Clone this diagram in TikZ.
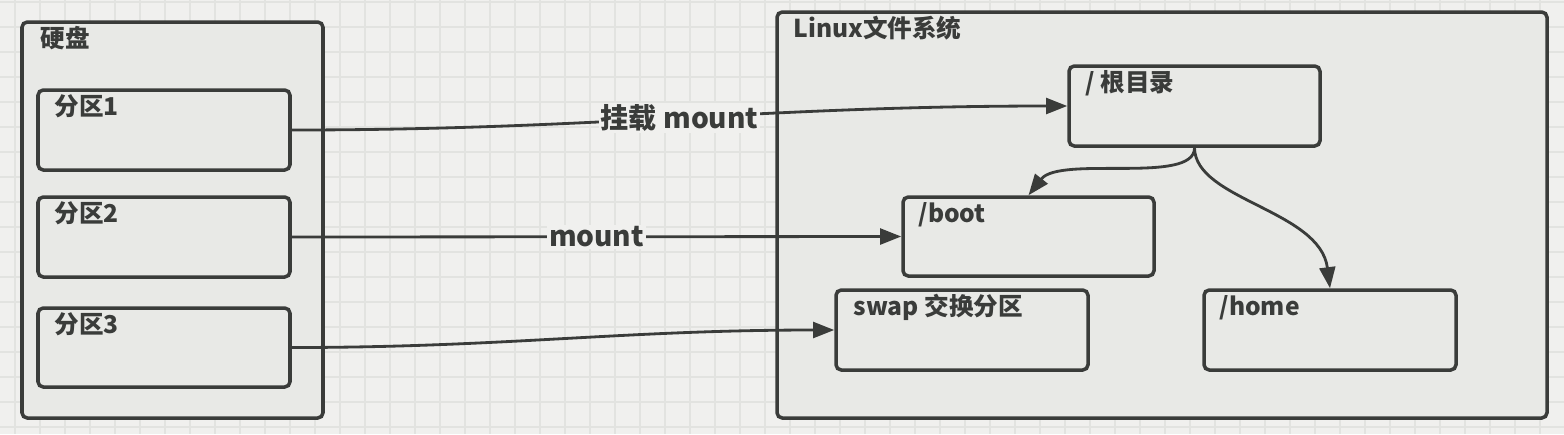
\documentclass[tikz,border=0pt]{standalone}
\usepackage{fontspec}
\setmainfont{Noto Sans CJK SC}
\usepackage{xcolor}
\usetikzlibrary{arrows.meta,fit}

\definecolor{canvas}{HTML}{F0F0EE}
\definecolor{gridc}{HTML}{E2E3E0}
\definecolor{boxfill}{HTML}{E8E9E6}
\definecolor{ink}{HTML}{3A3C3A}

\begin{document}
\begin{tikzpicture}[x=0.02cm, y=-0.02cm, >={Triangle[length=12pt,width=9pt]},
                box/.style={draw=ink, fill=boxfill, rounded corners=3pt, line width=2pt, inner sep=0pt},
                title/.style={anchor=base west, inner sep=0pt, text=ink, font=\fontsize{14}{16}\selectfont\bfseries},
                elbl/.style={fill=canvas, inner sep=1pt, text=ink, font=\fontsize{16}{18}\selectfont\bfseries},
                link/.style={->, draw=ink, line width=1.6pt},
                gridline/.style={draw=gridc, line width=0.6pt}]

      % canvas and grid
      \fill[canvas] (0,0) rectangle (1564,434);
      \useasboundingbox (0,0) rectangle (1564,434);
      \foreach \gx in {15,40,...,1564} \draw[gridline] (\gx,0) -- (\gx,434);
      \foreach \gy in {2,27,...,434} \draw[gridline] (0,\gy) -- (1564,\gy);

      % disk side
      \node[box, fit={(22,22) (323,418)}] (disk) {};
      \node[title] (diskt) at ([shift={(20,27)}]disk.north west) {硬盘};
      \node[box, fit={(38,90) (290,170)}] (p1) {};
      \node[title] (p1t) at ([shift={(18,27)}]p1.north west) {分区1};
      \node[box, fit={(38,197) (290,277)}] (p2) {};
      \node[title] (p2t) at ([shift={(18,27)}]p2.north west) {分区2};
      \node[box, fit={(38,308) (290,387)}] (p3) {};
      \node[title] (p3t) at ([shift={(18,27)}]p3.north west) {分区3};

      % file system side
      \node[box, fit={(777,12) (1547,418)}] (fs) {};
      \node[title] (fst) at ([shift={(18,27)}]fs.north west) {Linux文件系统};
      \node[box, fit={(1069,66) (1320,146)}] (root) {};
      \node[title] (roott) at ([shift={(18,27)}]root.north west) {/ 根目录};
      \node[box, fit={(903,197) (1154,276)}] (boot) {};
      \node[title] (boott) at ([shift={(17,27)}]boot.north west) {/boot};
      \node[box, fit={(836,290) (1088,370)}] (swap) {};
      \node[title] (swapt) at ([shift={(19,27)}]swap.north west) {swap 交换分区};
      \node[box, fit={(1204,290) (1456,370)}] (home) {};
      \node[title] (homet) at ([shift={(17,27)}]home.north west) {/home};

      % mounts
      \draw[link] (p1.east) to[out=0,in=180] node[elbl] (m1) {挂载 mount} (root.west);
      \draw[link] (p2.east) -- node[elbl] (m2) {mount} (boot.west);
      \draw[link] (p3.east) to[out=0,in=180] (swap.west);
      \draw[link] (root.south) .. controls (1195,185) and (1060,155) .. (boot.north);
      \draw[link] (root.south) .. controls (1195,200) and (1320,210) .. (home.north);
  \end{tikzpicture}
\end{document}
